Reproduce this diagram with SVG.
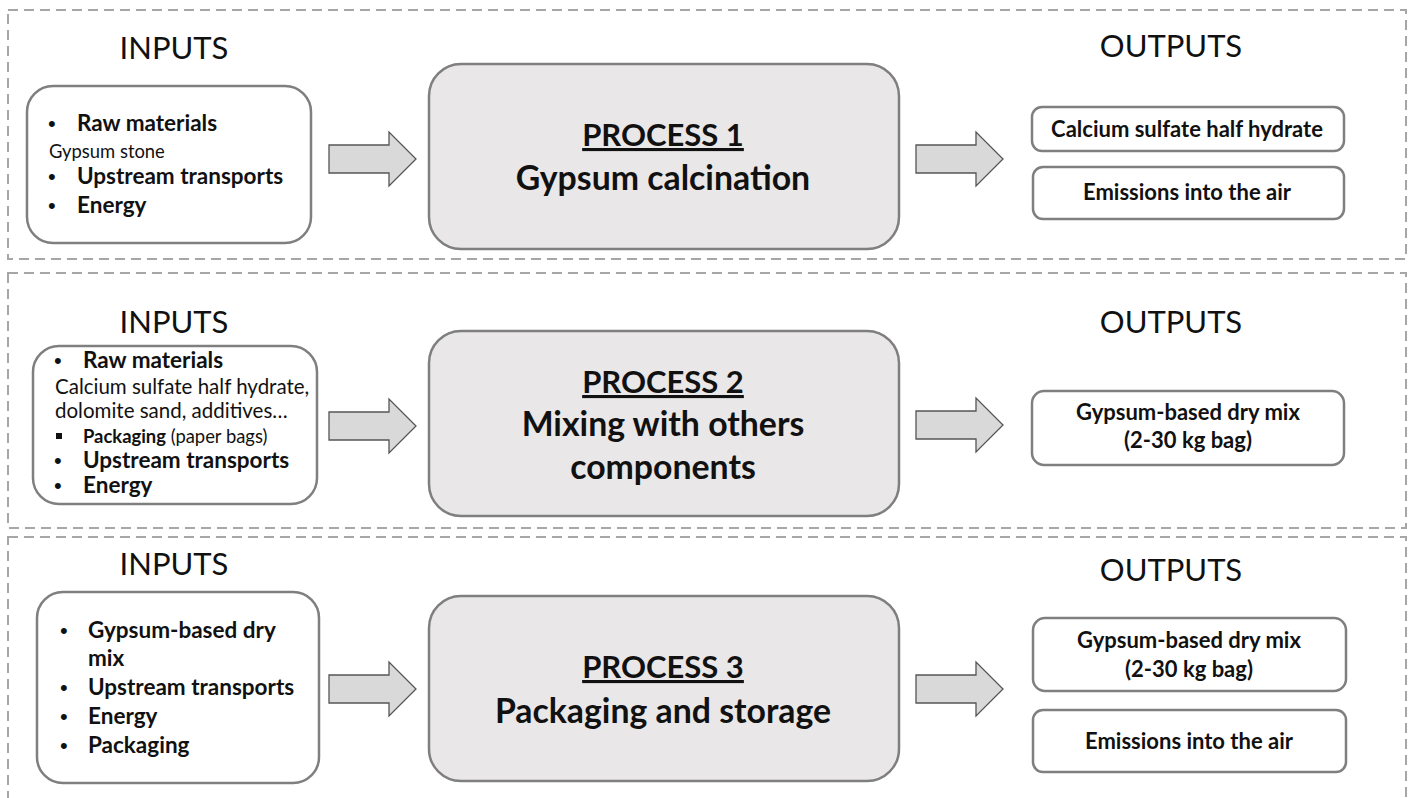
<svg xmlns="http://www.w3.org/2000/svg" width="1413" height="798" viewBox="0 0 1413 798">
<style>
.sec{fill:none;stroke:#a6a6a6;stroke-width:2;stroke-dasharray:10 6}
.box{fill:#fff;stroke:#7f7f7f;stroke-width:2.5}
.proc{fill:#e9e7e7;stroke:#7f7f7f;stroke-width:2.5}
.arr{fill:#d9d9d9;stroke:#555;stroke-width:1.3}
text{font-family:Lato,"Open Sans",sans-serif;fill:#111}
.hd{font-size:31px;text-anchor:middle}
.b{font-weight:bold;font-size:22.5px}
.bl{font-family:"Liberation Sans",sans-serif;font-size:22px}
.n{font-size:18.4px}
.pt{font-weight:bold;font-size:31px;text-anchor:middle}
.ps{font-weight:bold;font-size:33.8px;text-anchor:middle}
.ot{font-weight:bold;font-size:22px;text-anchor:middle}
</style>
<defs>
<path id="arrow" d="M0,13 H60 V0 L87,27 L60,54 V41 H0 Z"/>
</defs>
<g id="sections">
<rect class="sec" x="8" y="10" width="1398" height="249"/>
<rect class="sec" x="8" y="273" width="1398" height="255"/>
<rect class="sec" x="8" y="537" width="1398" height="270"/>
</g>
<g id="headers">
<text class="hd" x="174" y="59">INPUTS</text>
<text class="hd" x="1171" y="57">OUTPUTS</text>
<text class="hd" x="174" y="333">INPUTS</text>
<text class="hd" x="1171" y="333">OUTPUTS</text>
<text class="hd" x="174" y="575">INPUTS</text>
<text class="hd" x="1171" y="581">OUTPUTS</text>
</g>
<g id="connectors">
<use href="#arrow" class="arr" x="329" y="132"/>
<use href="#arrow" class="arr" x="916" y="132"/>
<use href="#arrow" class="arr" x="329" y="399"/>
<use href="#arrow" class="arr" x="916" y="398"/>
<use href="#arrow" class="arr" x="329" y="662"/>
<use href="#arrow" class="arr" x="916" y="662"/>
</g>
<g id="inputs1">
<rect class="box" x="27" y="86" width="284" height="157" rx="26"/>
<text class="bl" x="48" y="131">•</text><text class="b" x="77" y="131">Raw materials</text>
<text class="n" x="49" y="158">Gypsum stone</text>
<text class="bl" x="48" y="184">•</text><text class="b" x="77" y="184">Upstream transports</text>
<text class="bl" x="48" y="213">•</text><text class="b" x="77" y="213">Energy</text>
</g>
<g id="process1">
<rect class="proc" x="429" y="64" width="470" height="185" rx="32"/>
<text class="pt" x="663" y="146" text-decoration="underline">PROCESS 1</text>
<text class="ps" x="663" y="190">Gypsum calcination</text>
</g>
<g id="out1a">
<rect class="box" x="1032" y="107" width="312" height="44" rx="10"/>
<text class="ot" x="1187" y="137">Calcium sulfate half hydrate</text>
</g>
<g id="out1b">
<rect class="box" x="1033" y="167" width="311" height="52" rx="10"/>
<text class="ot" x="1187" y="200">Emissions into the air</text>
</g>
<g id="inputs2">
<rect class="box" x="33" y="346" width="284" height="158" rx="26"/>
<text class="bl" x="54" y="368">•</text><text class="b" x="83" y="368">Raw materials</text>
<text class="n" x="55" y="394" style="font-size:20.5px">Calcium sulfate half hydrate,</text>
<text class="n" x="55" y="418" style="font-size:20.5px">dolomite sand, additives…</text>
<rect x="56" y="433" width="6" height="6" fill="#111"/>
<text class="n" x="83" y="443"><tspan font-weight="bold">Packaging</tspan> (paper bags)</text>
<text class="bl" x="54" y="468">•</text><text class="b" x="83" y="468">Upstream transports</text>
<text class="bl" x="54" y="493">•</text><text class="b" x="83" y="493">Energy</text>
</g>
<g id="process2">
<rect class="proc" x="429" y="331" width="470" height="185" rx="32"/>
<text class="pt" x="663" y="393" text-decoration="underline">PROCESS 2</text>
<text class="ps" x="663" y="436">Mixing with others</text>
<text class="ps" x="663" y="479">components</text>
</g>
<g id="out2">
<rect class="box" x="1032" y="391" width="312" height="74" rx="12"/>
<text class="ot" x="1188" y="420">Gypsum-based dry mix</text>
<text class="ot" x="1188" y="448">(2-30 kg bag)</text>
</g>
<g id="inputs3">
<rect class="box" x="37" y="592" width="282" height="191" rx="26"/>
<text class="bl" x="60" y="638">•</text><text class="b" x="88" y="638">Gypsum-based dry</text>
<text class="b" x="88" y="666">mix</text>
<text class="bl" x="60" y="695">•</text><text class="b" x="88" y="695">Upstream transports</text>
<text class="bl" x="60" y="724">•</text><text class="b" x="88" y="724">Energy</text>
<text class="bl" x="60" y="753">•</text><text class="b" x="88" y="753">Packaging</text>
</g>
<g id="process3">
<rect class="proc" x="429" y="596" width="470" height="185" rx="32"/>
<text class="pt" x="663" y="678" text-decoration="underline">PROCESS 3</text>
<text class="ps" x="663" y="723">Packaging and storage</text>
</g>
<g id="out3a">
<rect class="box" x="1033" y="618" width="313" height="73" rx="12"/>
<text class="ot" x="1189" y="648">Gypsum-based dry mix</text>
<text class="ot" x="1189" y="677">(2-30 kg bag)</text>
</g>
<g id="out3b">
<rect class="box" x="1033" y="710" width="313" height="62" rx="10"/>
<text class="ot" x="1189" y="749">Emissions into the air</text>
</g>
</svg>
